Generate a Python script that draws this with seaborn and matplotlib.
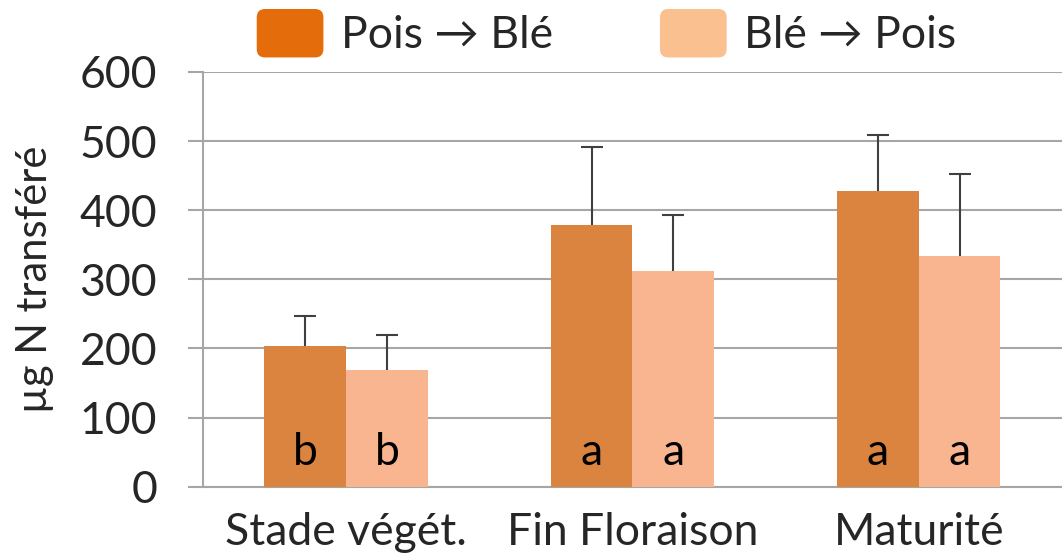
import matplotlib
matplotlib.use("Agg")
import matplotlib.pyplot as plt
import seaborn as sns
import pandas as pd
import numpy as np
from matplotlib.patches import FancyBboxPatch
from matplotlib.legend_handler import HandlerPatch

# data
stades = ["Stade végét.", "Fin Floraison", "Maturité"]
series = ["Pois → Blé", "Blé → Pois"]
pois_ble = [203, 378, 428]
ble_pois = [169, 312, 334]
err_pois_ble = [44, 114, 81]
err_ble_pois = [50, 81, 118]
lettres_pois_ble = ["b", "a", "a"]
lettres_ble_pois = ["b", "a", "a"]

bar_colors = ["#DB843F", "#F8B590"]
legend_colors = ["#E46C0A", "#FAC090"]

df = pd.DataFrame({
    "stade": stades * 2,
    "serie": [series[0]] * 3 + [series[1]] * 3,
    "valeur": pois_ble + ble_pois,
})

sns.set_theme(style="white")
plt.rcParams["font.family"] = ["Lato", "DejaVu Sans"]
FS = 32

fig = plt.figure(figsize=(10.62, 5.57), dpi=100)
ax = fig.add_axes([0.191, 0.126, 0.809, 0.745])

sns.barplot(data=df, x="stade", y="valeur", hue="serie", palette=bar_colors,
            width=0.57, errorbar=None, saturation=1, linewidth=0,
            ax=ax, legend=False, zorder=3)

# barres d'erreur (haut seulement) + lettres
errs = err_pois_ble + err_ble_pois
lettres = lettres_pois_ble + lettres_ble_pois
for p, e, l in zip(ax.patches, errs, lettres):
    xc = p.get_x() + p.get_width() / 2
    h = p.get_height()
    _, caps, _ = ax.errorbar(xc, h, yerr=[[0], [e]], fmt="none", ecolor="#404040",
                             elinewidth=1.5, capsize=8, capthick=1.5, zorder=4)
    caps[0].remove()
    ax.text(xc, 50, l, ha="center", va="center", fontsize=FS, color="black", zorder=5)

ax.set_ylim(0, 600)
ax.set_yticks(range(0, 601, 100))
ax.set_xlim(-0.5, 2.5)
ax.yaxis.grid(True, color="#A6A6A6", linewidth=1.5, zorder=0)
ax.set_axisbelow(True)
for s in ["top", "right"]:
    ax.spines[s].set_visible(False)
for s in ["left", "bottom"]:
    ax.spines[s].set_color("#A6A6A6")
    ax.spines[s].set_linewidth(1.5)
ax.tick_params(axis="y", left=True, length=11, width=1.5, color="#A6A6A6",
               labelsize=FS, pad=22)
ax.tick_params(axis="x", bottom=False, labelsize=FS, pad=12)
ax.set_xlabel("")
ax.set_ylabel("µg N transféré", fontsize=30, labelpad=18)


class RoundHandler(HandlerPatch):
    def create_artists(self, legend, orig_handle, xdescent, ydescent,
                       width, height, fontsize, trans):
        r = FancyBboxPatch((-xdescent, -ydescent), width, height,
                           boxstyle="round,pad=0,rounding_size=6",
                           facecolor=orig_handle.get_facecolor(),
                           edgecolor="none", transform=trans)
        return [r]


handles = [FancyBboxPatch((0, 0), 1, 1, facecolor=c) for c in legend_colors]
ax.legend(handles, series, loc="upper center", bbox_to_anchor=(0.47, 1.205),
          ncol=2, frameon=False, fontsize=FS, handlelength=1.5, handleheight=1.3,
          columnspacing=2.4, handletextpad=0.4, borderpad=0,
          handler_map={FancyBboxPatch: RoundHandler()})

fig.savefig("out.png", dpi=100)
